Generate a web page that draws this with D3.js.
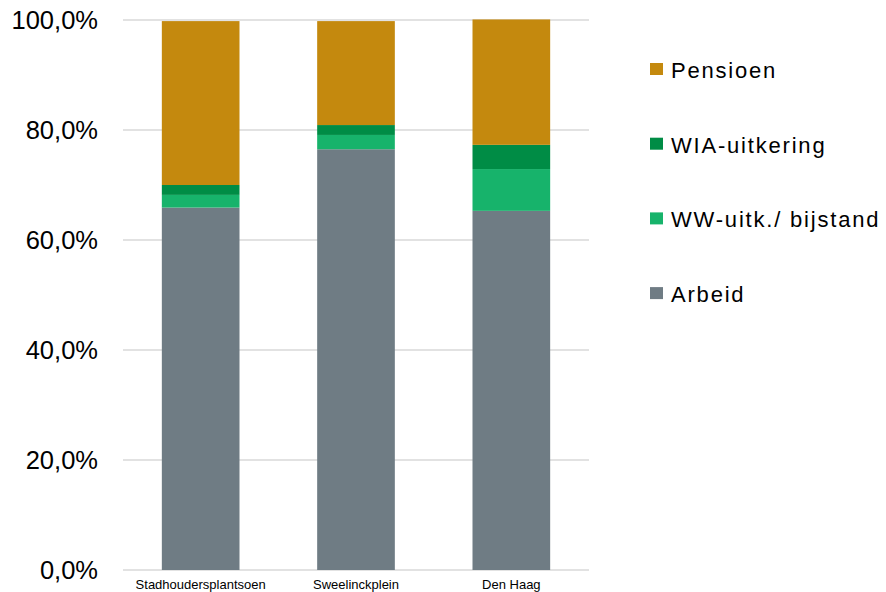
<!DOCTYPE html>
<html>
<head>
<meta charset="utf-8">
<script src="https://cdn.jsdelivr.net/npm/d3@7"></script>
<style>
  body { margin: 0; background: #fff; }
  text { font-family: "Liberation Sans", Arial, sans-serif; fill: #000; }
</style>
</head>
<body>
<div id="chart"></div>
<script>
// categories and series (percent)
const locaties = ["Stadhoudersplantsoen", "Sweelinckplein", "Den Haag"];
const reeksen = ["Arbeid", "WW-uitk./ bijstand", "WIA-uitkering", "Pensioen"];
const arbeid = [65.9, 76.5, 65.3];
const wwBijstand = [2.3, 2.6, 7.6];
const wia = [1.8, 1.8, 4.4];
const pensioen = [29.8, 18.9, 22.8];
const yTicks = [0, 20, 40, 60, 80, 100];
const kleuren = ["#6f7c84", "#17b36b", "#008c45", "#c4890e"];

const width = 886, height = 592;
const m = { left: 123, right: 297, top: 20, bottom: 22 };
const plotW = width - m.left - m.right;
const plotH = height - m.top - m.bottom;

const rows = locaties.map((loc, i) => ({
  loc: loc,
  "Arbeid": arbeid[i],
  "WW-uitk./ bijstand": wwBijstand[i],
  "WIA-uitkering": wia[i],
  "Pensioen": pensioen[i]
}));

const svg = d3.select("#chart").append("svg")
  .attr("width", width)
  .attr("height", height);

const g = svg.append("g")
  .attr("transform", `translate(${m.left},${m.top})`);

const x = d3.scaleBand().domain(locaties).range([0, plotW])
  .paddingInner(0.5).paddingOuter(0.25);
const y = d3.scaleLinear().domain([0, 100]).range([plotH, 0]);
const color = d3.scaleOrdinal().domain(reeksen).range(kleuren);

// gridlines
g.append("g")
  .selectAll("line")
  .data(yTicks)
  .join("line")
  .attr("x1", 0)
  .attr("x2", plotW)
  .attr("y1", d => y(d))
  .attr("y2", d => y(d))
  .attr("stroke", "#d9d9d9")
  .attr("stroke-width", 1.4);

// y labels
g.append("g")
  .selectAll("text")
  .data(yTicks)
  .join("text")
  .attr("x", -25)
  .attr("y", d => y(d))
  .attr("dy", "0.36em")
  .attr("text-anchor", "end")
  .style("font-size", "25.5px")
  .text(d => d.toFixed(1).replace(".", ",") + "%");

// bars
const stack = d3.stack().keys(reeksen)(rows);
g.append("g")
  .selectAll("g")
  .data(stack)
  .join("g")
  .attr("fill", d => color(d.key))
  .selectAll("rect")
  .data(d => d)
  .join("rect")
  .attr("x", d => x(d.data.loc))
  .attr("y", d => y(d[1]))
  .attr("width", x.bandwidth())
  .attr("height", d => y(d[0]) - y(d[1]));

// x labels
g.append("g")
  .selectAll("text")
  .data(locaties)
  .join("text")
  .attr("x", d => x(d) + x.bandwidth() / 2)
  .attr("y", plotH + 19)
  .attr("text-anchor", "middle")
  .style("font-size", "13px")
  .text(d => d);

// legend (top to bottom: Pensioen ... Arbeid)
const legend = svg.append("g")
  .attr("transform", "translate(650,63)");
const items = legend.selectAll("g")
  .data(reeksen.slice().reverse())
  .join("g")
  .attr("transform", (d, i) => `translate(0,${i * 74.7})`);
items.append("rect")
  .attr("width", 13)
  .attr("height", 12)
  .attr("fill", d => color(d));
items.append("text")
  .attr("x", 21)
  .attr("y", 15)
  .style("font-size", "22px")
  .style("letter-spacing", "1.8px")
  .text(d => d);
</script>
</body>
</html>
